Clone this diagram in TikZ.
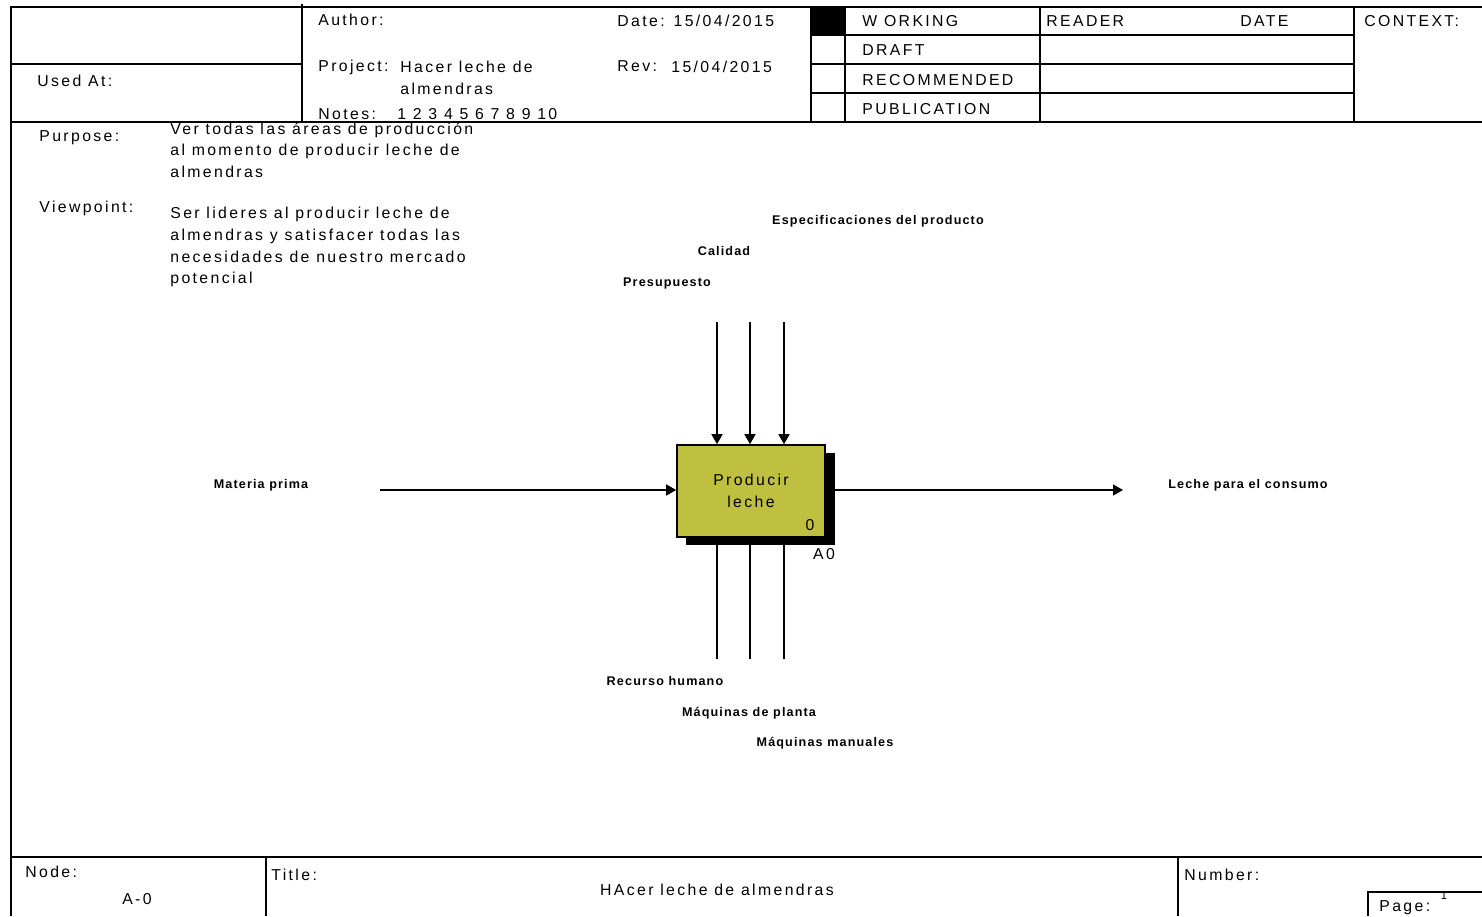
\documentclass[tikz,border=0pt]{standalone}
\usepackage{fontspec}
\setmainfont{Liberation Sans}
\newfontfamily\hdrfont[LetterSpace=15]{Liberation Sans}
\newfontfamily\lblfont[LetterSpace=9]{Liberation Sans}
\usetikzlibrary{arrows.meta}
\definecolor{boxfill}{RGB}{192,192,64}
\begin{document}
\begin{tikzpicture}[x=0.5pt,y=-0.5pt,
  frame/.style={line width=0.8pt},
  txt/.style={inner sep=0,anchor=base west,font=\hdrfont\fontsize{7.9}{10.8}\selectfont},
  ctxt/.style={inner sep=0,anchor=base,font=\hdrfont\fontsize{7.9}{10.8}\selectfont},
  lbl/.style={inner sep=0,anchor=base,font=\lblfont\bfseries\fontsize{6.3}{8}\selectfont},
  conn/.style={line width=0.7pt},
  arr/.style={conn,-{Triangle[length=5pt,width=5.5pt]}},
  actbox/.style={draw,line width=0.8pt,fill=boxfill,minimum width=74pt,minimum height=46pt,inner sep=0,
    align=center,font=\hdrfont\fontsize{7.9}{11}\selectfont}]
\useasboundingbox (0,0) rectangle (1482,916);
% ---------- header frame ----------
\draw[frame] (11,916) -- (11,7) -- (1482,7);
\draw[frame] (11,122) -- (1482,122);
\draw[frame] (11,64) -- (302,64);
\draw[frame] (302,4) -- (302,122);
\draw[frame] (811,7) -- (811,122);
\draw[frame] (845,7) -- (845,122);
\draw[frame] (1040,7) -- (1040,122);
\draw[frame] (1354,7) -- (1354,122);
\draw[frame] (811,35) -- (1354,35);
\draw[frame] (811,64) -- (1354,64);
\draw[frame] (811,93) -- (1354,93);
\fill (811,7) rectangle (845,35);
% ---------- header texts ----------
\node[txt] (usedat) at (37,86) {Used At:};
\node[txt] (author) at (318,25) {Author:};
\node[txt] (project) at (318,71) {Project:};
\node[txt] (proj1) at (400,72) {Hacer leche de};
\node[txt] (proj2) at (400,94) {almendras};
\node[txt] (notes) at (318,119) {Notes:};
\node[txt] (notesn) at (397,119) {1 2 3 4 5 6 7 8 9 10};
\node[txt] (date) at (617,26) {Date: 15/04/2015};
\node[txt] (rev) at (617,71) {Rev:};
\node[txt] (revd) at (671,72) {15/04/2015};
\node[txt] (working) at (862,26) {W ORKING};
\node[txt] (draft) at (862,55) {DRAFT};
\node[txt] (recomm) at (862,85) {RECOMMENDED};
\node[txt] (public) at (862,114) {PUBLICATION};
\node[txt] (reader) at (1046,26) {READER};
\node[txt] (rdate) at (1240,26) {DATE};
\node[txt] (context) at (1364,26) {CONTEXT:};
% ---------- purpose / viewpoint ----------
\node[txt] (purpose) at (39,141) {Purpose:};
\node[txt,anchor=north west,align=left] (purposet) at (170,122)
  {Ver todas las áreas de producción\\al momento de producir leche de\\almendras};
\node[txt] (viewpoint) at (39,212) {Viewpoint:};
\node[txt,anchor=north west,align=left] (viewpointt) at (170,207)
  {Ser lideres al producir leche de\\almendras y satisfacer todas las\\necesidades de nuestro mercado\\potencial};
% ---------- activity box ----------
\fill (686,453) rectangle (835,545);
\node[actbox] (A) at (751,491) {Producir\\leche};
\node[ctxt] (num) at (810,530) {0};
\node[ctxt] (aid) at (824,559) {A0};
% ---------- arrows ----------
\coordinate (c1) at (717,322);
\coordinate (c2) at (750,322);
\coordinate (c3) at (784,322);
\draw[arr] (c1) -- (c1 |- A.north);
\draw[arr] (c2) -- (c2 |- A.north);
\draw[arr] (c3) -- (c3 |- A.north);
\coordinate (m1) at (717,659);
\coordinate (m2) at (750,659);
\coordinate (m3) at (784,659);
\draw[conn] (m1) -- (m1 |- A.south);
\draw[conn] (m2) -- (m2 |- A.south);
\draw[conn] (m3) -- (m3 |- A.south);
\coordinate (ci) at (380,490);
\draw[arr] (ci) -- (ci -| A.west);
\coordinate (co) at (1123,490);
\draw[arr] (A.east |- co) -- (co);
% ---------- labels ----------
\node[lbl] (lin) at (261,488) {Materia prima};
\node[lbl] (lout) at (1248,488) {Leche para el consumo};
\node[lbl] (lc3) at (878,224) {Especificaciones del producto};
\node[lbl] (lc2) at (724,255) {Calidad};
\node[lbl] (lc1) at (667,286) {Presupuesto};
\node[lbl] (lm1) at (665,685) {Recurso humano};
\node[lbl] (lm2) at (749,716) {Máquinas de planta};
\node[lbl] (lm3) at (825,746) {Máquinas manuales};
% ---------- bottom bar ----------
\draw[frame] (11,857) -- (1482,857);
\draw[frame] (266,857) -- (266,916);
\draw[frame] (1178,857) -- (1178,916);
\draw[frame] (1368,916) -- (1368,892) -- (1482,892);
\node[txt] (nodel) at (25,877) {Node:};
\node[ctxt] (nodev) at (137,904) {A-0};
\node[txt] (titlel) at (271,880) {Title:};
\node[ctxt] (titlev) at (717,895) {HAcer leche de almendras};
\node[txt] (numberl) at (1184,880) {Number:};
\node[txt] (pagel) at (1379,911) {Page:};
\node[inner sep=0,anchor=base,font=\hdrfont\fontsize{5.5}{6}\selectfont] (pagen) at (1444,899) {1};
\end{tikzpicture}
\end{document}
